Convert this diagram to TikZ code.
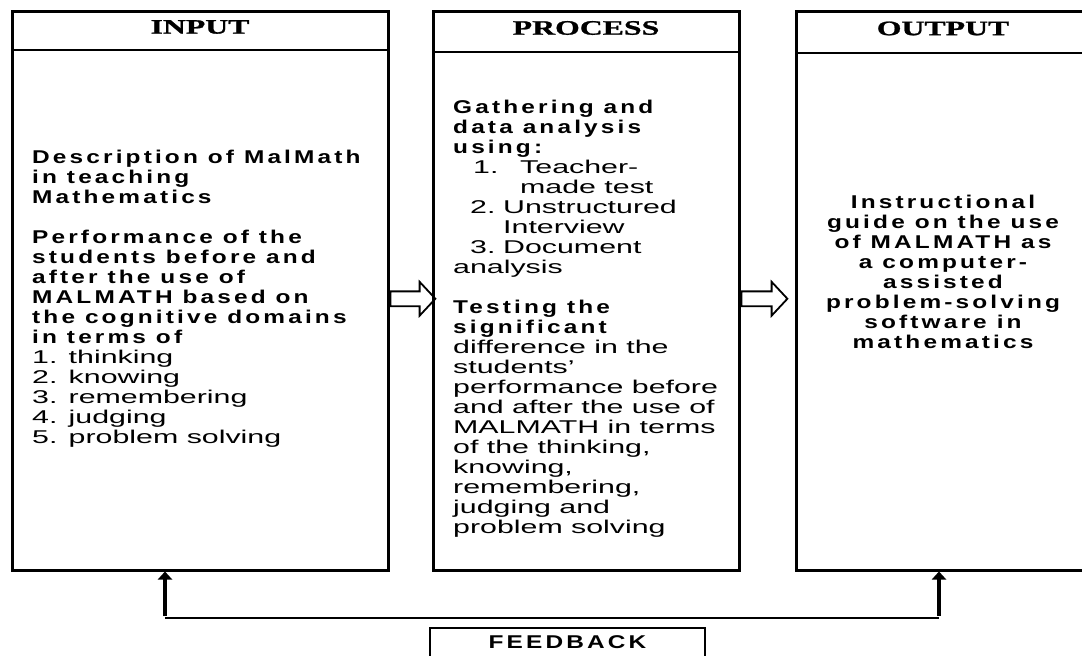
\documentclass[tikz,border=0pt]{standalone}
\usepackage{fontspec}
\setmainfont{Liberation Sans}[FakeStretch=1.64]
\newfontfamily\headfont{Liberation Serif}[FakeStretch=1.55,FakeBold=1.2]
\newfontfamily\widefont{Liberation Sans}[FakeStretch=1.32,LetterSpace=17]
\usepackage{tikz}
\usetikzlibrary{arrows.meta,shapes.arrows}

\begin{document}
\begin{tikzpicture}[x=1pt,y=-1pt,
  box/.style={draw,line width=3pt,inner sep=0pt},
  headbox/.style={draw,line width=1.8pt,inner sep=0pt,text depth=7pt,
    font=\headfont\bfseries\fontsize{20.5}{22}\selectfont},
  boldtxt/.style={inner sep=0pt,align=left,
    font=\widefont\bfseries\fontsize{18.5}{20}\selectfont},
  plaintxt/.style={inner sep=0pt,align=left,font=\fontsize{18.5}{20}\selectfont},
  hollow/.style={draw,line width=1.8pt,single arrow,text height=13pt,text depth=0pt,
    single arrow head extend=9.5pt,single arrow tip angle=94,inner sep=0pt,anchor=tail},
  fbline/.style={line width=2pt},
  uparrow/.style={line width=3.5pt,-{Triangle[width=14pt,length=8pt]}}]
\useasboundingbox (0,0) rectangle (1082,656);
% the three boxes
\node[box,minimum width=376,minimum height=558.5] (input) at (200,290.75) {};
\node[headbox,minimum width=376,minimum height=39,anchor=north] (inHead) at (input.north) {INPUT};
\node[box,minimum width=306,minimum height=558.5] (process) at (586,290.75) {};
\node[headbox,minimum width=306,minimum height=41,anchor=north] (procHead) at (process.north) {PROCESS};
\node[box,minimum width=294,minimum height=558.5] (output) at (943,290.75) {};
\node[headbox,minimum width=294,minimum height=42,anchor=north] (outHead) at (output.north) {OUTPUT};
% input text
\node[boldtxt,anchor=north west] (inDesc) at (32,149.5) {Description of MalMath\\in teaching\\Mathematics\\[20pt]Performance of the\\students before and\\after the use of\\MALMATH based on\\the cognitive domains\\in terms of};
\node[plaintxt,anchor=north west] (inList) at (32,349.5) {1. thinking\\2. knowing\\3. remembering\\4. judging\\5. problem solving};
% process text
\node[boldtxt,anchor=north west] (procGather) at (453,99.5) {Gathering and\\data analysis\\using:};
\node[plaintxt,anchor=north west] (procList) at (453,159.5) {\hspace*{20pt}\makebox[47pt][l]{1.}Teacher-\\
  \hspace*{67pt}made test\\
  \hspace*{17pt}\makebox[33pt][l]{2.}Unstructured\\
  \hspace*{50pt}Interview\\
  \hspace*{17pt}\makebox[33pt][l]{3.}Document\\
  analysis};
\node[boldtxt,anchor=north west] (procTest) at (453,299.5) {Testing the\\significant};
\node[plaintxt,anchor=north west] (procDiff) at (453,339.5) {difference in the\\students’\\performance before\\and after the use of\\MALMATH in terms\\of the thinking,\\knowing,\\remembering,\\judging and\\problem solving};
% output text
\node[boldtxt,align=center,anchor=north] (outText) at (943,194.5) {Instructional\\guide on the use\\of MALMATH as\\a computer-\\assisted\\problem-solving\\software in\\mathematics};
% hollow arrows
\node[hollow,minimum height=45] (arrA) at ([yshift=-8pt]input.east) {};
\node[hollow,minimum height=46] (arrB) at ([yshift=-8pt]process.east) {};
% feedback
\node[draw,line width=2pt,minimum width=275,minimum height=34,inner sep=0pt,text depth=6pt,
  font=\widefont\bfseries\fontsize{18.5}{20}\selectfont] (feedback) at (567.5,645) {FEEDBACK};
\coordinate (fbL) at (165,618);
\coordinate (fbR) at (939,618);
\draw[fbline] (fbL) -- (fbR);
\draw[uparrow] ([yshift=2pt]fbL) -- (fbL |- input.south);
\draw[uparrow] ([yshift=2pt]fbR) -- (fbR |- output.south);
\end{tikzpicture}
\end{document}
